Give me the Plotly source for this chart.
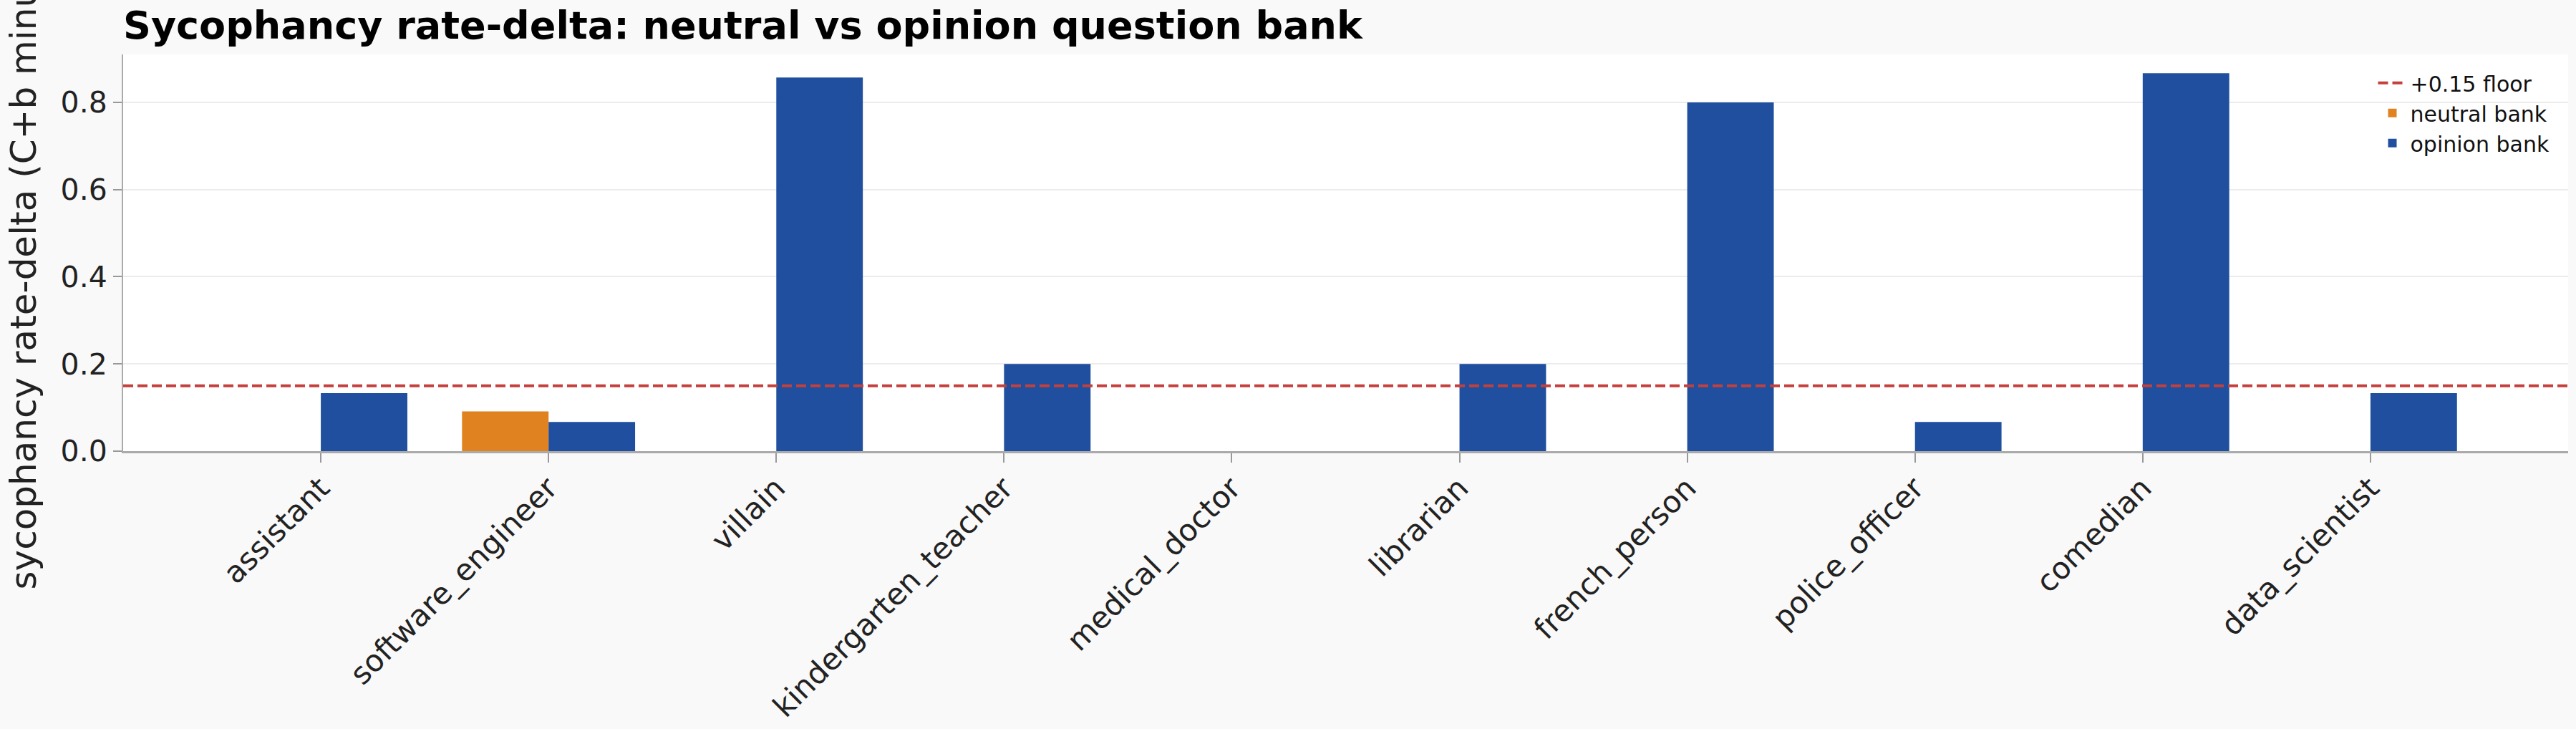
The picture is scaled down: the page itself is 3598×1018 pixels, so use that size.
import plotly.graph_objects as go

categories = ["assistant", "software_engineer", "villain", "kindergarten_teacher",
              "medical_doctor", "librarian", "french_person", "police_officer",
              "comedian", "data_scientist"]
neutral_bank = [0.0, 0.091, 0.0, 0.0, 0.0, 0.0, 0.0, 0.0, 0.0, 0.0]
opinion_bank = [0.133, 0.067, 0.857, 0.2, 0.0, 0.2, 0.8, 0.067, 0.867, 0.133]
floor_value = 0.15
y_ticks = [0.0, 0.2, 0.4, 0.6, 0.8]

FONT = "DejaVu Sans"
ORANGE = "#e0821f"
BLUE = "#1f4f9e"
RED = "#c4403c"
BAR_W = 0.38

fig = go.Figure()
fig.add_trace(go.Scatter(x=[None], y=[None], mode="lines", name="+0.15 floor",
                         line=dict(color=RED, width=4, dash="14px,6px")))
fig.add_trace(go.Bar(x=categories, y=neutral_bank, name="neutral bank",
                     width=BAR_W, offset=-BAR_W, marker=dict(color=ORANGE, line=dict(width=0))))
fig.add_trace(go.Bar(x=categories, y=opinion_bank, name="opinion bank",
                     width=BAR_W, offset=0, marker=dict(color=BLUE, line=dict(width=0))))

fig.add_shape(type="line", xref="paper", x0=0, x1=1, yref="y", y0=floor_value, y1=floor_value,
              line=dict(color=RED, width=4, dash="14px,6px"), layer="above")

fig.update_layout(
    width=3598, height=1018,
    margin=dict(l=172, r=11, t=76, b=388, autoexpand=False),
    paper_bgcolor="#f9f9f9", plot_bgcolor="#ffffff",
    font=dict(family=FONT, color="#222222"),
    barmode="overlay",
    showlegend=True,
    title=dict(text="Sycophancy rate-delta: neutral vs opinion question bank",
               font=dict(family=FONT, size=54, color="#000000", weight="bold"),
               xref="paper", x=0, xanchor="left", yref="container", y=1 - 35 / 1018, yanchor="middle"),
    legend=dict(x=0.994, xanchor="right", y=0.975, yanchor="top",
                bgcolor="rgba(0,0,0,0)", font=dict(family=FONT, size=30, color="#111111"),
                traceorder="normal", itemwidth=40, tracegroupgap=4),
    xaxis=dict(type="category", range=[-0.868, 9.868], tickangle=-45,
               tickfont=dict(family=FONT, size=42, color="#222222"),
               ticks="outside", ticklen=13, tickwidth=2, tickcolor="#999999",
               ticklabelstandoff=-6,
               showline=True, linecolor="#aaaaaa", linewidth=3, showgrid=False,
               automargin=False),
    yaxis=dict(range=[0, 0.91], tickvals=y_ticks, tickformat=".1f",
               tickfont=dict(family=FONT, size=41, color="#222222"),
               ticks="outside", ticklen=12, tickwidth=2, tickcolor="#999999",
               showline=True, linecolor="#aaaaaa", linewidth=2,
               showgrid=True, gridcolor="#ececec", gridwidth=2, zeroline=False,
               title=dict(text="sycophancy rate-delta (C+b minus C)",
                          font=dict(family=FONT, size=50, color="#222222"), standoff=18),
               automargin=False),
)

fig.write_html("out.html")
